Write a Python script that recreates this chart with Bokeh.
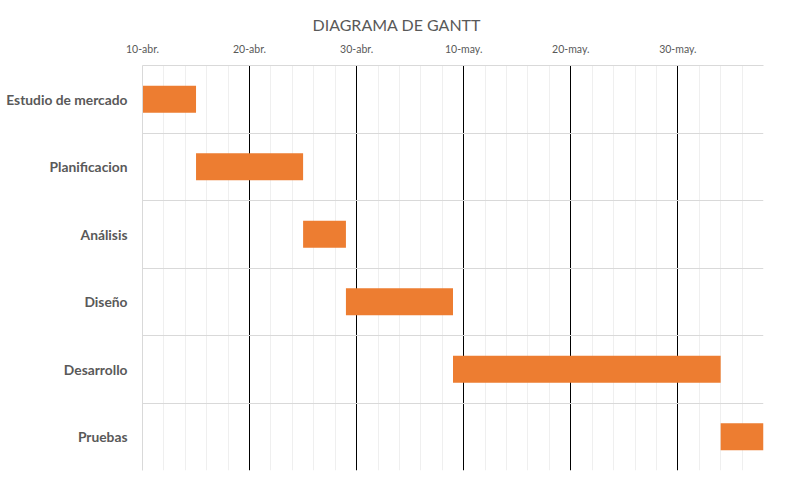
import pandas as pd
from bokeh.plotting import figure
from bokeh.models import Range1d, FixedTicker, ColumnDataSource
from bokeh.embed import file_html
from bokeh.resources import INLINE

# ---- data ----
tasks = ["Estudio de mercado", "Planificacion", "Análisis", "Diseño", "Desarrollo", "Pruebas"]
start_dates = ["2024-04-10", "2024-04-15", "2024-04-25", "2024-04-29", "2024-05-09", "2024-06-03"]
durations = [5, 10, 4, 10, 25, 4]

axis_start = "2024-04-10"
axis_end = "2024-06-07"
tick_dates = ["2024-04-10", "2024-04-20", "2024-04-30", "2024-05-10", "2024-05-20", "2024-05-30"]
tick_labels = ["10-abr.", "20-abr.", "30-abr.", "10-may.", "20-may.", "30-may."]

origin = pd.Timestamp(axis_start)


def day(d):
    return (pd.Timestamp(d) - origin).days


left = [day(d) for d in start_dates]
right = [l + d for l, d in zip(left, durations)]
ypos = list(range(len(tasks)))
src = ColumnDataSource(dict(y=ypos, left=left, right=right, task=tasks))

total_days = day(axis_end)
major = [day(d) for d in tick_dates]

TEXT = "#595959"
FONT = "Lato"

p = figure(width=777, height=472, output_backend="svg", toolbar_location=None,
           x_range=Range1d(0, total_days), y_range=Range1d(len(tasks) - 0.5, -0.5),
           x_axis_location="above",
           min_border_left=142, min_border_right=14, min_border_top=65, min_border_bottom=2,
           title="DIAGRAMA DE GANTT")
p.outline_line_color = None
p.background_fill_color = "white"
p.border_fill_color = "white"

p.hbar(y="y", left="left", right="right", height=0.4, source=src,
       fill_color="#ED7D31", line_color=None)

# title
p.title.align = "left"
p.title.text_font = FONT
p.title.text_font_size = "16px"
p.title.text_font_style = "normal"
p.title.text_color = TEXT
p.title.offset = 170
p.title.standoff = 12

# x axis (above)
xa = p.xaxis[0]
xa.ticker = FixedTicker(ticks=major)
xa.major_label_overrides = {t: lab for t, lab in zip(major, tick_labels)}
xa.major_tick_line_color = None
xa.minor_tick_line_color = None
xa.major_tick_out = 0
xa.major_tick_in = 0
xa.axis_line_color = "#d9d9d9"
xa.major_label_text_font = FONT
xa.major_label_text_font_size = "10.5px"
xa.major_label_text_color = TEXT
xa.major_label_standoff = 11

# y axis
ya = p.yaxis[0]
ya.ticker = FixedTicker(ticks=ypos)
ya.major_label_overrides = {i: t for i, t in zip(ypos, tasks)}
ya.major_tick_line_color = None
ya.minor_tick_line_color = None
ya.major_tick_out = 0
ya.major_tick_in = 0
ya.axis_line_color = "#d9d9d9"
ya.major_label_text_font = FONT
ya.major_label_text_font_size = "13.8px"
ya.major_label_text_font_style = "bold"
ya.major_label_text_color = TEXT
ya.major_label_standoff = 15

# grids
minor = [d for d in range(2, total_days, 2) if d not in major]
p.xgrid.ticker = FixedTicker(ticks=[m for m in major if m != 0], minor_ticks=minor)
p.xgrid.grid_line_color = "black"
p.xgrid.grid_line_width = 1
p.xgrid.minor_grid_line_color = "#efefef"

p.ygrid.ticker = FixedTicker(ticks=[i - 0.5 for i in range(len(tasks) + 1)])
p.ygrid.grid_line_color = "#d9d9d9"

open("out.html", "w").write(file_html(p, INLINE))
